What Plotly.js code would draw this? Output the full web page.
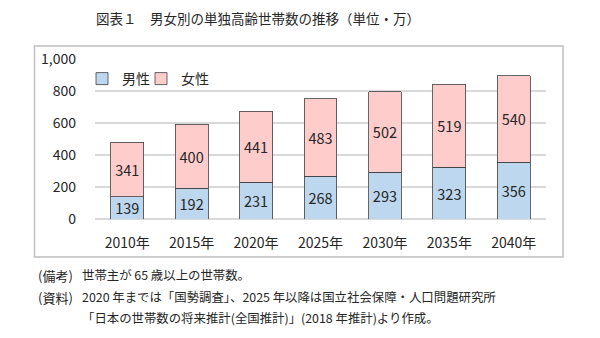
<!DOCTYPE html>
<html><head><meta charset="utf-8">
<script src="https://cdn.plot.ly/plotly-3.0.1.min.js"></script>
<style>html,body{margin:0;padding:0;background:#fff}#c{width:600px;height:338px}</style>
</head><body><div id="c"></div>
<script>
const categories = ['2010年','2015年','2020年','2025年','2030年','2035年','2040年'];
const male = [139,192,231,268,293,323,356];
const female = [341,400,441,483,502,519,540];
const seriesNames = ['男性','女性'];
const yTicks = [0,200,400,600,800,1000];
const yTickLabels = ['0','200','400','600','800','1,000'];

const F = '"Noto Sans CJK JP", "Noto Sans", sans-serif';
const common = {type:'bar', x:categories, textposition:'inside', insidetextanchor:'middle',
  constraintext:'none', textfont:{family:F,size:14.5,color:'#262626'}, hoverinfo:'skip'};
const traces = [
  Object.assign({}, common, {name:seriesNames[0], y:male, text:male.map(String),
    marker:{color:'#BDD7EE', line:{color:'#404040', width:0.8}}}),
  Object.assign({}, common, {name:seriesNames[1], y:female, text:female.map(String),
    marker:{color:'#FFCCCC', line:{color:'#404040', width:0.8}}}),
  // invisible spacer entry so the legend does not clip the last label
  {type:'bar', x:[categories[0]], y:[0], name:' ', showlegend:true, hoverinfo:'skip',
    marker:{color:'rgba(0,0,0,0)', line:{color:'rgba(0,0,0,0)', width:0}}}
];
const notes = [
  {label:'(備考)', text:'世帯主が 65 歳以上の世帯数。', y:275},
  {label:'(資料)', text:'2020 年までは「国勢調査」、2025 年以降は国立社会保障・人口問題研究所', y:297},
  {label:'', text:'「日本の世帯数の将来推計(全国推計)」(2018 年推計)より作成。', y:318}
];
const L=95, R=546, T=59, B=219;
const px = x => (x-L)/(R-L), py = y => (B-y)/(B-T);
const ann = [{xref:'paper',yref:'paper',x:px(258),y:py(18),text:'図表１　男女別の単独高齢世帯数の推移（単位・万）',
  showarrow:false,xanchor:'center',yanchor:'middle',font:{family:F,size:13.5,color:'#262626'}}];
notes.forEach(n=>{
  if(n.label) ann.push({xref:'paper',yref:'paper',x:px(36),y:py(n.y),text:n.label,showarrow:false,
    xanchor:'left',yanchor:'middle',font:{family:F,size:13,color:'#262626'}});
  ann.push({xref:'paper',yref:'paper',x:px(80),y:py(n.y),text:n.text,showarrow:false,
    xanchor:'left',yanchor:'middle',font:{family:F,size:12.4,color:'#262626'}});
});
const layout = {
  width:600, height:338, margin:{l:L,r:600-R,t:T,b:338-B,pad:0},
  paper_bgcolor:'#fff', plot_bgcolor:'#fff', barmode:'stack', bargap:0.49,
  showlegend:true,
  legend:{orientation:'h', x:px(82), y:py(79), xanchor:'left', yanchor:'middle',
    bgcolor:'rgba(0,0,0,0)', font:{family:F,size:14,color:'#262626'}, itemwidth:30,
    entrywidth:14, entrywidthmode:'pixels', traceorder:'normal'},
  xaxis:{showgrid:false, showline:false, zeroline:false, ticks:'', tickfont:{family:F,size:14,color:'#262626'},
    ticklabelstandoff:14, fixedrange:true},
  yaxis:{range:[0,1000], tickvals:yTicks, ticktext:yTickLabels, showgrid:true, gridcolor:'#D9D9D9', gridwidth:1.5,
    zeroline:true, zerolinecolor:'#D9D9D9', zerolinewidth:1.5, showline:false, ticks:'',
    tickfont:{family:F,size:14,color:'#262626'}, ticklabelstandoff:18, fixedrange:true},
  shapes:[{type:'rect', xref:'paper', yref:'paper', x0:px(34.5), x1:px(563), y0:py(257), y1:py(46),
    line:{color:'#BFBFBF', width:1.5}, fillcolor:'rgba(0,0,0,0)', layer:'below'}],
  annotations:ann
};
Plotly.newPlot('c', traces, layout, {staticPlot:true, displayModeBar:false});
</script></body></html>
